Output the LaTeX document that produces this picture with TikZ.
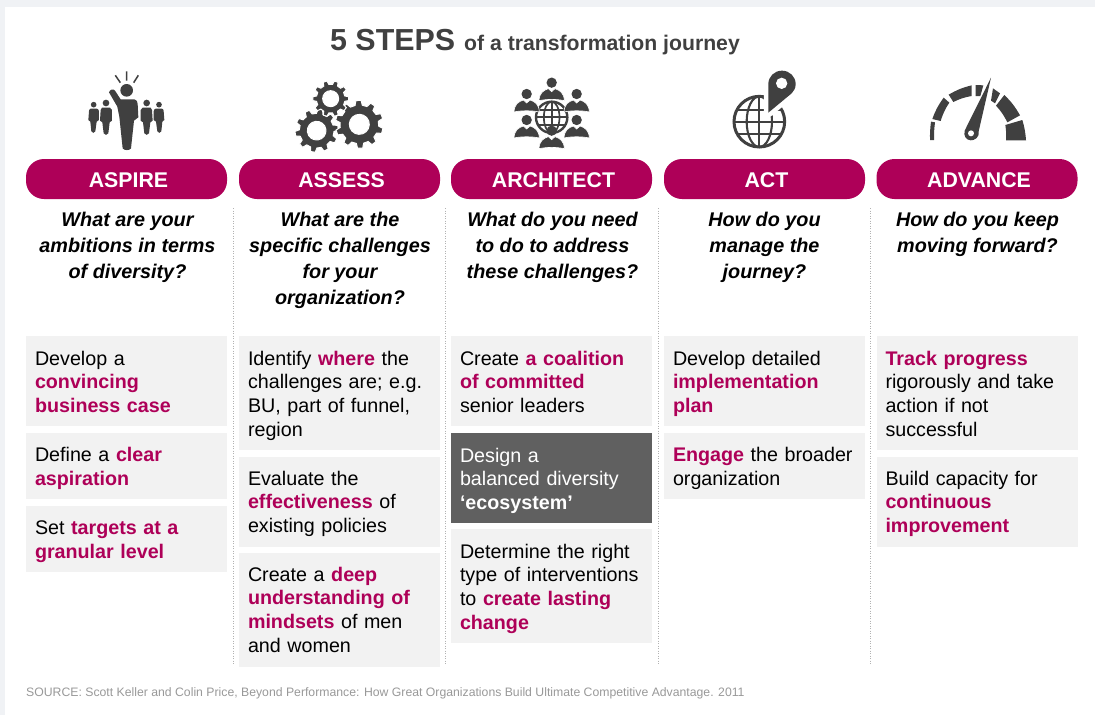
\documentclass[tikz,border=0pt]{standalone}
\usepackage{fontspec}
\setmainfont{Liberation Sans}
\definecolor{brand}{HTML}{AE0058}
\definecolor{ink}{HTML}{404040}
\definecolor{cellbg}{HTML}{F2F2F2}
\definecolor{celldark}{HTML}{606060}
\definecolor{pagebg}{HTML}{F0F2F5}
\newcommand\hl[1]{\textbf{\textcolor{brand}{#1}}}
\newcommand\fst{\rule{0pt}{19.6pt}}
\newcommand\lst{\rule[-4.1pt]{0pt}{4.1pt}}
\newcommand\fsu{\rule{0pt}{18.6pt}}
\newcommand\lsu{\rule[-5.1pt]{0pt}{5.1pt}}
\newcommand\qst{\rule{0pt}{18pt}}
\newcommand\plab[1]{\hspace{4pt}#1}
% a gear: cx cy Ro Ri hole teeth rot
\newcommand\cog[7]{%
  \fill[ink,draw=white,line width=1pt,even odd rule,shift={(#1,#2)},rotate=#7]
    ({(1-0.30)*360/#6}:#4)
    \foreach \i in {1,...,#6} {
      -- ({(\i-0.30)*360/#6}:#4) -- ({(\i-0.17)*360/#6}:#3)
      -- ({(\i+0.17)*360/#6}:#3) -- ({(\i+0.30)*360/#6}:#4)
    } -- cycle (0,0) circle (#5);}
% a bust: cx cy (head centre)
\newcommand\bustman[2]{%
  \begin{scope}[shift={(#1,#2)}]
    \fill[ink] (0,0) circle (15.5);
    \fill[ink,draw=white,line width=.6pt] (-38,54) .. controls (-37,31) and (-25,23) .. (-10,18) -- (0,27) -- (10,18)
      .. controls (25,23) and (37,31) .. (38,54) .. controls (15,49) and (-15,49) .. (-38,54) -- cycle;
  \end{scope}}
% a globe: cx cy r lw
\newcommand\globeicon[4]{%
  \begin{scope}[shift={(#1,#2)}]
    \draw[ink,line width=#4pt] (0,0) circle (#3);
    \draw[ink,line width=.7*#4pt] (0,0) ellipse ({.5*#3} and #3);
    \draw[ink,line width=.7*#4pt] (0,-#3) -- (0,#3);
    \draw[ink,line width=.7*#4pt] (-#3,0) -- (#3,0);
    \draw[ink,line width=.7*#4pt] ({-.88*#3},{-.47*#3}) -- ({.88*#3},{-.47*#3});
    \draw[ink,line width=.7*#4pt] ({-.88*#3},{.47*#3}) -- ({.88*#3},{.47*#3});
  \end{scope}}
\begin{document}
\begin{tikzpicture}[x=1pt,y=-1pt,
  pill/.style={fill=brand,rounded corners=18pt,minimum width=201pt,minimum height=40pt,inner sep=0pt,outer sep=0pt,text=white,text height=16pt,text depth=0pt,
    font=\fontsize{21.3}{24}\selectfont\bfseries},
  ask/.style={anchor=north,inner sep=0pt,outer sep=0pt,align=center,text=black,
    font=\fontsize{19.8}{26}\selectfont\bfseries\itshape},
  cell/.style={anchor=north west,fill=cellbg,minimum width=201pt,minimum height=#1,text width=183pt,inner xsep=9pt,inner ysep=0pt,outer sep=0pt,align=left,text=black,
    font=\fontsize{19.7}{23.7}\selectfont},
  darkcell/.style={cell=#1,fill=celldark,text=white},
  rulev/.style={draw=black!30,line width=1pt,dash pattern=on 1pt off 1.5pt}]
\useasboundingbox (0,0) rectangle (1095,715);
\fill[pagebg] (0,0) rectangle (1095,715);
\fill[white] (5,7) rectangle (1095,715);

% title
\node[anchor=base,inner sep=0pt,text=ink] (title) at (535,50) {{\fontsize{30.4}{34}\selectfont\bfseries 5 STEPS}\hspace{9pt}{\fontsize{21.2}{24}\selectfont\bfseries of a transformation journey}};

% icon 1
\begin{scope}[scale=1/3]
  \draw[ink,line width=1.5pt] (380,214) -- (380,242) (346,226) -- (361,248) (415,226) -- (401,248);
  \fill[ink] (380,271) circle (19);
  \fill[ink,line join=round] (327,277) .. controls (330,268) and (340,265) .. (345,272) -- (362,298) -- (403,298) .. controls (410,299) and (413,305) .. (413,312)
    -- (415,352) -- (402,362) -- (393,445) .. controls (390,452) and (372,452) .. (368,445) -- (358,350) -- (352,320) -- cycle;
  \foreach \mx/\my/\s in {0/0/1,758/0/-1}{
    \begin{scope}[shift={(\mx,\my)},xscale=\s]
      \fill[ink] (318,309) circle (10);
      \fill[ink] (306,323) -- (330,323) .. controls (334,324) and (335,327) .. (336,330) -- (336,362) -- (329,367) -- (325,400) .. controls (323,406) and (313,406) .. (311,400) -- (307,367) -- (300,362) -- (302,330) .. controls (302,326) and (303,324) .. (306,323) -- cycle;
      \fill[ink] (281,314) circle (8.5);
      \fill[ink] (272,326) -- (291,326) .. controls (295,327) and (296,330) .. (297,334) -- (297,360) -- (290,365) -- (286,394) .. controls (284,400) and (276,400) .. (274,394) -- (271,365) -- (265,360) -- (267,334) .. controls (267,330) and (268,327) .. (272,326) -- cycle;
    \end{scope}}
\end{scope}

% icon 2
\begin{scope}[shift={(60,60)},scale=1/3]
  \cog{770}{212}{65}{52}{28}{10}{8}
  \cog{898}{193}{72}{58}{30}{10}{20}
  \cog{812}{116}{54}{43}{24}{10}{0}
\end{scope}

% icon 3
\begin{scope}[shift={(490,60)},scale=1/3]
  \globeicon{185}{172}{47}{2.4}
  \bustman{185}{68}
  \bustman{110}{102}
  \bustman{260}{102}
  \bustman{110}{180}
  \bustman{260}{180}
  \bustman{185}{212}
\end{scope}

% icon 4
\begin{scope}[shift={(490,60)},scale=1/3]
  \globeicon{808}{185}{76}{3}
  \path[draw=white,line width=9pt,line join=round] (835,158) -- (835,72) .. controls (835,50) and (853,32) .. (876,32) .. controls (899,32) and (917,50) .. (917,72) .. controls (917,85) and (912,92) .. (905,100) -- cycle;
  \fill[ink] (835,158) -- (835,72) .. controls (835,50) and (853,32) .. (876,32) .. controls (899,32) and (917,50) .. (917,72) .. controls (917,85) and (912,92) .. (905,100) -- cycle;
  \fill[white] (875,70) circle (17);
\end{scope}

% icon 5
\begin{scope}[shift={(900,60)},scale=1/3]
  \fill[ink] (90,240) to[bend left=4] (93,185) -- (105,187) to[bend right=4] (102,240) -- cycle;
  \fill[ink] (97,177) to[bend left=8] (131,113) -- (148,128) to[bend right=8] (122,183) -- cycle;
  \fill[ink] (146,104) to[bend left=8] (215,76) -- (215,108) to[bend right=8] (160,126) -- cycle;
  \fill[ink] (227,75) -- (250,76) -- (241,108) -- (227,108) -- cycle;
  \fill[ink] (279,85) -- (300,100) -- (285,130) -- (273,122) -- cycle;
  \fill[ink] (313,105) to[bend left=8] (360,166) -- (322,187) to[bend right=8] (288,137) -- cycle;
  \fill[ink] (367,180) to[bend left=6] (378,241) -- (318,241) to[bend right=6] (316,195) -- cycle;
  \fill[ink] (273,53) -- (236,214) .. controls (240,232) and (222,242) .. (212,241) .. controls (198,240) and (190,228) .. (194,212) -- cycle;
  \fill[white] (213,220) circle (9);
\end{scope}

% pills
\node[pill] (p1) at (126.5,179) {\plab{ASPIRE}};
\node[pill] (p2) at (339.5,179) {\plab{ASSESS}};
\node[pill] (p3) at (551.5,179) {\plab{ARCHITECT}};
\node[pill] (p4) at (764.5,179) {\plab{ACT}};
\node[pill] (p5) at (977,179) {\plab{ADVANCE}};

% dotted separators
\foreach \n/\x in {a/233,b/445.5,c/658,d/870.5}{
  \coordinate (\n t) at (\x,208);
  \coordinate (\n b) at (\x,665);
  \draw[rulev] (\n t) -- (\n b);}

% questions
\node[ask] (q1) at (127.5,208) {\qst What are your\\ambitions in terms\\of diversity?};
\node[ask] (q2) at (340,208) {\qst What are the\\specific challenges\\for your\\organization?};
\node[ask] (q3) at (552.5,208) {\qst What do you need\\to do to address\\these challenges?};
\node[ask] (q4) at (764.5,208) {\qst How do you\\manage the\\journey?};
\node[ask] (q5) at (977.5,208) {\qst How do you keep\\moving forward?};

% column 1
\node[cell=90pt] (c11) at (26,336) {\fst Develop a\\\hl{convincing}\\\hl{business case}\lst};
\node[cell=66pt] (c12) at (26,433) {\fst Define a \hl{clear}\\\hl{aspiration}\lst};
\node[cell=66pt] (c13) at (26,506) {\fst Set \hl{targets at a}\\\hl{granular level}\lst};
% column 2
\node[cell=114pt] (c21) at (239,336) {\fst Identify \hl{where} the\\challenges are; e.g.\\BU, part of funnel,\\region\lst};
\node[cell=90pt] (c22) at (239,457) {\fsu Evaluate the\\\hl{effectiveness} of\\existing policies\lsu};
\node[cell=114pt] (c23) at (239,553) {\fsu Create a \hl{deep}\\\hl{understanding of}\\\hl{mindsets} of men\\and women\lsu};
% column 3
\node[cell=90pt] (c31) at (451,336) {\fst Create \hl{a coalition}\\\hl{of committed}\\senior leaders\lst};
\node[darkcell=90pt] (c32) at (451,433) {\fst Design a\\balanced diversity\\\textbf{‘ecosystem’}\lst};
\node[cell=114pt] (c33) at (451,529) {\fst Determine the right\\type of interventions\\to \hl{create lasting}\\\hl{change}\lst};
% column 4
\node[cell=90pt] (c41) at (664,336) {\fst Develop detailed\\\hl{implementation}\\\hl{plan}\lst};
\node[cell=66pt] (c42) at (664,433) {\fst \hl{Engage} the broader\\organization\lst};
% column 5
\node[cell=114pt] (c51) at (876.5,336) {\fst \hl{Track progress}\\rigorously and take\\action if not\\successful\lst};
\node[cell=90pt] (c52) at (876.5,457) {\fsu Build capacity for\\\hl{continuous}\\\hl{improvement}\lsu};

% source
\node[anchor=base west,inner sep=0pt,text=black!40,font=\fontsize{12.24}{14}\selectfont] (src) at (26,696) {SOURCE: Scott Keller and Colin Price, Beyond Performance: How Great Organizations Build Ultimate Competitive Advantage. 2011};
\end{tikzpicture}
\end{document}
